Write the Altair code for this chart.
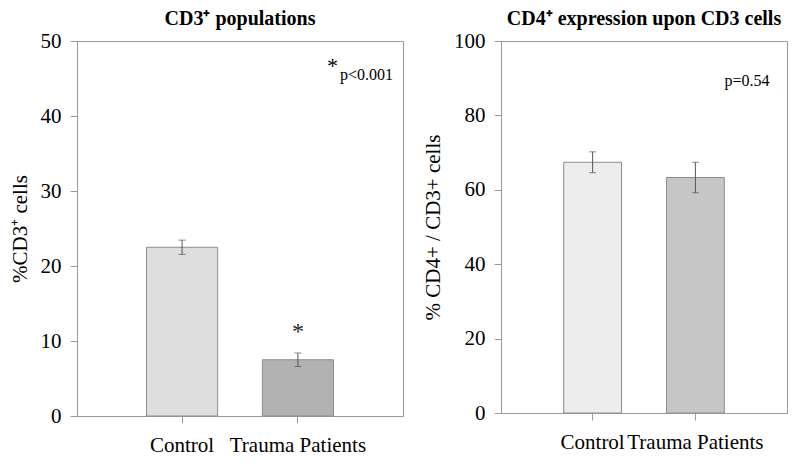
import altair as alt
import pandas as pd

# ---- data ----
categories = ["Control", "Trauma Patients"]
cd3_mean = [22.5, 7.5]
cd3_err = [0.95, 0.9]
cd4_mean = [67.4, 63.3]
cd4_err = [2.8, 4.1]

# annotations (text, category, value)
cd3_star_text = ["*"]
cd3_star_group = ["Trauma Patients"]
cd3_star_value = [11.9]
cd3_p_star = ["*"]
cd3_p_text = ["p<0.001"]
cd4_p_text = ["p=0.54"]

# ---- styles ----
FONT = "Liberation Serif"
cd3_fills = ["#dedede", "#b2b2b2"]
cd4_fills = ["#ededed", "#c6c6c6"]
AXIS_GRAY = "#9a9a9a"


def make_df(means, errs):
    return pd.DataFrame({
        "group": categories,
        "mean": means,
        "lo": [m - e for m, e in zip(means, errs)],
        "hi": [m + e for m, e in zip(means, errs)],
    })


def panel(df, ymax, ystep, ytitle, fills, pi, po):
    xscale = alt.Scale(domain=categories, paddingInner=pi, paddingOuter=po)
    xaxis = alt.Axis(labelAngle=0, labelFont=FONT, labelFontSize=21,
                     labelColor="black", domainColor=AXIS_GRAY,
                     tickColor=AXIS_GRAY, tickSize=7, labelPadding=11)
    xenc = alt.X("group:N", sort=categories, title=None, scale=xscale, axis=xaxis)
    yscale = alt.Scale(domain=[0, ymax], nice=False)
    yaxis = alt.Axis(values=list(range(0, ymax + 1, ystep)), grid=False,
                     labelFont=FONT, labelFontSize=21, labelColor="black",
                     domainColor=AXIS_GRAY, tickColor=AXIS_GRAY, tickSize=7,
                     labelPadding=9, titleFont=FONT, titleFontSize=21,
                     titleFontWeight="normal", titleColor="black",
                     titlePadding=10)
    yenc = alt.Y("mean:Q", scale=yscale, title=ytitle, axis=yaxis)
    base = alt.Chart(df)
    bars = base.mark_bar(stroke="#8c8c8c", strokeWidth=1).encode(
        x=xenc, y=yenc,
        color=alt.Color("group:N", scale=alt.Scale(domain=categories, range=fills),
                        legend=None),
    )
    err = base.mark_rule(color="#555555", strokeWidth=1).encode(
        x=xenc, y=alt.Y("lo:Q", scale=yscale, title=ytitle, axis=yaxis), y2="hi:Q",
    )
    cap_hi = base.mark_tick(color="#555555", thickness=1, size=7).encode(
        x=xenc, y=alt.Y("hi:Q", scale=yscale, title=ytitle, axis=yaxis),
    )
    cap_lo = base.mark_tick(color="#555555", thickness=1, size=7).encode(
        x=xenc, y=alt.Y("lo:Q", scale=yscale, title=ytitle, axis=yaxis),
    )
    return [bars, err, cap_hi, cap_lo], xenc, yscale, yaxis


left_df = make_df(cd3_mean, cd3_err)
right_df = make_df(cd4_mean, cd4_err)

left_layers, lx, ly, lyax = panel(left_df, 50, 10, "%CD3\u207a cells", cd3_fills, 0.386, 0.60)
right_layers, rx, ry, ryax = panel(right_df, 100, 20, "% CD4+ / CD3+ cells", cd4_fills, 0.437, 0.61)

# left annotations
star_df = pd.DataFrame({"t": cd3_star_text, "group": cd3_star_group, "v": cd3_star_value})
star = alt.Chart(star_df).mark_text(font=FONT, fontSize=24, color="#222", baseline="middle",
                                    dy=5).encode(
    x=lx, y=alt.Y("v:Q", scale=ly, title="%CD3\u207a cells", axis=lyax), text="t:N")

pstar_df = pd.DataFrame({"t": cd3_p_star, "group": ["Trauma Patients"], "v": [47.3]})
pstar = alt.Chart(pstar_df).mark_text(font=FONT, fontSize=22, color="black", align="left",
                                      baseline="middle", dx=29, dy=5).encode(
    x=lx, y=alt.Y("v:Q", scale=ly, title="%CD3\u207a cells", axis=lyax), text="t:N")

ptxt_df = pd.DataFrame({"t": cd3_p_text, "group": ["Trauma Patients"], "v": [45.5]})
ptxt = alt.Chart(ptxt_df).mark_text(font=FONT, fontSize=16, color="black", align="left",
                                    baseline="middle", dx=42).encode(
    x=lx, y=alt.Y("v:Q", scale=ly, title="%CD3\u207a cells", axis=lyax), text="t:N")

rp_df = pd.DataFrame({"t": cd4_p_text, "group": ["Trauma Patients"], "v": [89.2]})
rp = alt.Chart(rp_df).mark_text(font=FONT, fontSize=16, color="black", align="left",
                                baseline="middle", dx=29).encode(
    x=rx, y=alt.Y("v:Q", scale=ry, title="% CD4+ / CD3+ cells", axis=ryax), text="t:N")

title_common = dict(font=FONT, fontSize=20, fontWeight="bold", color="black", offset=1)

left = alt.layer(*left_layers, star, pstar, ptxt).properties(
    width=326, height=375,
    title=alt.TitleParams("CD3\u207a populations", **title_common),
)
right = alt.layer(*right_layers, rp).properties(
    width=286, height=372,
    title=alt.TitleParams("CD4\u207a expression upon CD3 cells", **title_common),
)

chart = alt.hconcat(left, right, spacing=18).resolve_scale(
    color="independent", x="independent", y="independent"
).properties(padding=0, background="white").configure(
    font=FONT,
    style={"guide-label": {"font": FONT}, "guide-title": {"font": FONT}},
).configure_view(
    stroke=AXIS_GRAY, strokeWidth=1
).configure_axis(
    labelFont=FONT, titleFont=FONT
).configure_text(font=FONT).configure_title(font=FONT)

chart.save("out.html", embed_options={"renderer": "svg", "actions": False})
